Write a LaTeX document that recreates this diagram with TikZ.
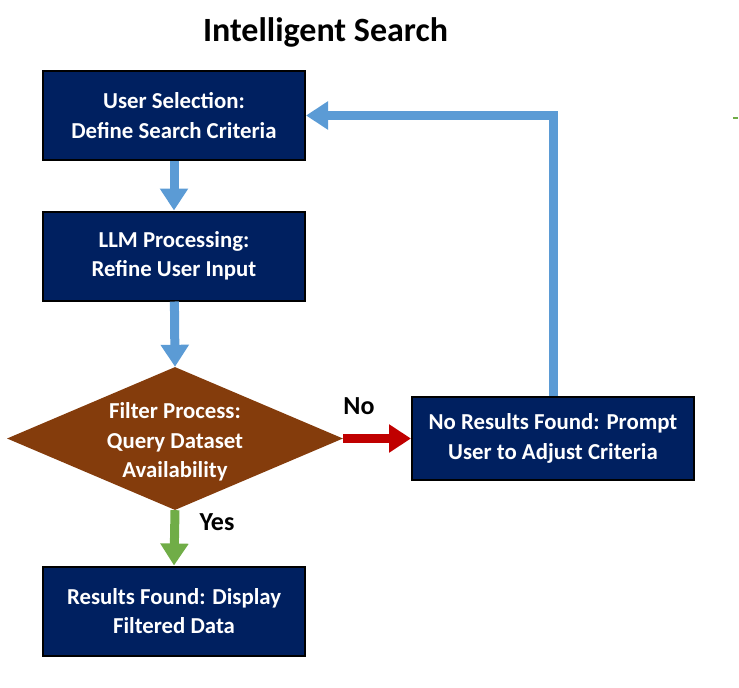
\documentclass[tikz,border=0pt]{standalone}
\usepackage{fontspec}
\setmainfont{Carlito}
\usetikzlibrary{arrows.meta,shapes.geometric}
\definecolor{navy}{RGB}{0,32,96}
\definecolor{flowblue}{RGB}{91,155,213}
\definecolor{decbrown}{RGB}{132,60,12}
\definecolor{nored}{RGB}{192,0,0}
\definecolor{yesgreen}{RGB}{112,173,71}
\newcommand\boxfont{\fontsize{22.8}{29.5}\selectfont\bfseries}
\begin{document}
\begin{tikzpicture}[x=1pt,y=-1pt,
  stepbox/.style={draw=black, line width=2pt, fill=navy, text=white,
    minimum width=262pt, minimum height=89pt, inner sep=0pt, align=center, font=\boxfont},
  decision/.style={diamond, fill=decbrown, draw=none, inner sep=0pt,
    minimum width=336pt, minimum height=143pt, aspect=2.35},
  dectext/.style={text=white, align=center, font=\boxfont, inner sep=0pt},
  flowarrow/.style={line width=9pt, -{Triangle[width=27pt,length=22pt]}},
  tag/.style={font=\fontsize{26}{30}\selectfont\bfseries, text=black, inner sep=0pt}
]
\useasboundingbox (0,0) rectangle (739,688);

% title
\node[font=\fontsize{34}{38}\selectfont\bfseries, inner sep=0pt] (title) at (325.5,32) {Intelligent Search};

% process steps
\node[stepbox] (select) at (174,115.5) {User Selection:\\Define Search Criteria};
\node[stepbox] (refine) at (174,256) {LLM Processing:\\Refine User Input};
\node[decision] (filter) at (175,438.5) {};
\node[dectext] (filtertext) at (175,442) {Filter Process:\\Query Dataset\\Availability};
\node[stepbox] (found) at (174,611) {Results Found: Display\\Filtered Data};
\node[stepbox, minimum width=282pt, minimum height=83pt] (none) at (553,438.5) {No Results Found: Prompt\\User to Adjust Criteria};

% connectors
\draw[flowarrow, flowblue] (select) -- (refine);
\draw[flowarrow, flowblue] (refine) -- (filter.north);
\draw[flowarrow, nored] (filter.east) -- (none.west);
\draw[flowarrow, yesgreen] (filter.south) -- (found.north);
\draw[flowarrow, flowblue] (none.north) |- (select.east);

% branch labels
\node[tag] (nolabel) at (359,406) {No};
\node[tag] (yeslabel) at (217,522) {Yes};

% small green tick at the right edge
\coordinate (tickA) at (733,118);
\coordinate (tickB) at (738,118);
\draw[yesgreen, line width=1.5pt] (tickA) -- (tickB);
\end{tikzpicture}
\end{document}
